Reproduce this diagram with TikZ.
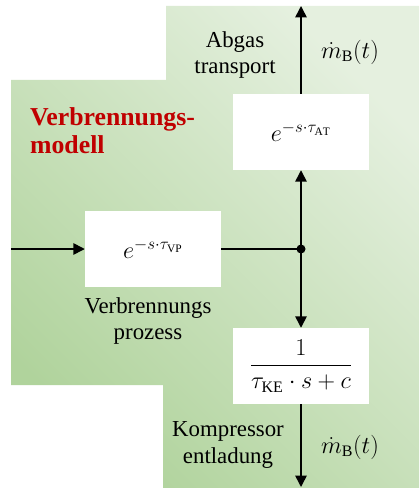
\documentclass[tikz,border=0pt]{standalone}
\usepackage{amsmath,amssymb}
\usepackage{fontspec}
\setmainfont{Liberation Serif}
\usepackage{tikz}
\usepackage{xcolor}
\usetikzlibrary{arrows.meta,positioning,calc}
\definecolor{modelGreenDark}{RGB}{176,211,156}
\definecolor{modelGreenLight}{RGB}{229,240,223}
\definecolor{modelRed}{RGB}{192,0,0}

\tikzset{
    blk/.style={draw=none, fill=white, minimum width=4.08cm, minimum height=2.28cm, inner sep=0pt, font=\fontsize{19.5}{23}\selectfont},
    lbl/.style={align=center, font=\fontsize{19.5}{22.5}\selectfont},
    sig/.style={line width=1.3pt, -{Triangle[length=3.4mm, width=3.4mm]}},
    wire/.style={line width=1.3pt}
}

\begin{document}
\begin{tikzpicture}[x=0.03cm, y=-0.03cm]
                    \useasboundingbox (0,0) rectangle (419,488);
                    % Hintergrund
                    \shade[top color=modelGreenLight, bottom color=modelGreenDark, shading angle=-45]
                        (166,6) -- (419,6) -- (419,488) -- (163,488) -- (163,385)
                        -- (11,385) -- (11,80) -- (166,80) -- cycle;
                    \node[anchor=west, align=left, text=modelRed, font=\fontsize{22}{24}\selectfont\bfseries] (title) at (26,131) {Verbrennungs-\\modell};

                    % Bloecke
                    \node[blk] (vp) at (153,249) {$e^{-s\cdot\tau_{\mathrm{VP}}}$};
                    \node[blk] (at) at (301,132) {$e^{-s\cdot\tau_{\mathrm{AT}}}$};
                    \node[blk] (ke) at (301,366) {$\dfrac{1}{\tau_{\mathrm{KE}}\cdot s+c}$};
                    \coordinate (in) at (11,249);
                    \coordinate (split) at (301,249);
                    \coordinate (outtop) at (301,6);
                    \coordinate (outbot) at (301,487);

                    % Signale
                    \draw[sig] (in) -- (vp.west);
                    \draw[wire] (vp.east) -- (split);
                    \fill (split) circle (4.5);
                    \draw[sig] (split) -- (at.south);
                    \draw[sig] (at.north) -- (outtop);
                    \draw[sig] (split) -- (ke.north);
                    \draw[sig] (ke.south) -- (outbot);

                    % Beschriftung
                    \node[lbl] (abgas) at (235,55) {Abgas\\transport};
                    \node[lbl] (proz) at (148,321) {Verbrennungs\\prozess};
                    \node[lbl] (komp) at (228,445) {Kompressor\\entladung};
                    \node[lbl] (mtop) at (350,52) {$\dot{m}_{\mathrm{B}}(t)$};
                    \node[lbl] (mbot) at (350,447) {$\dot{m}_{\mathrm{B}}(t)$};
                \end{tikzpicture}
\end{document}
